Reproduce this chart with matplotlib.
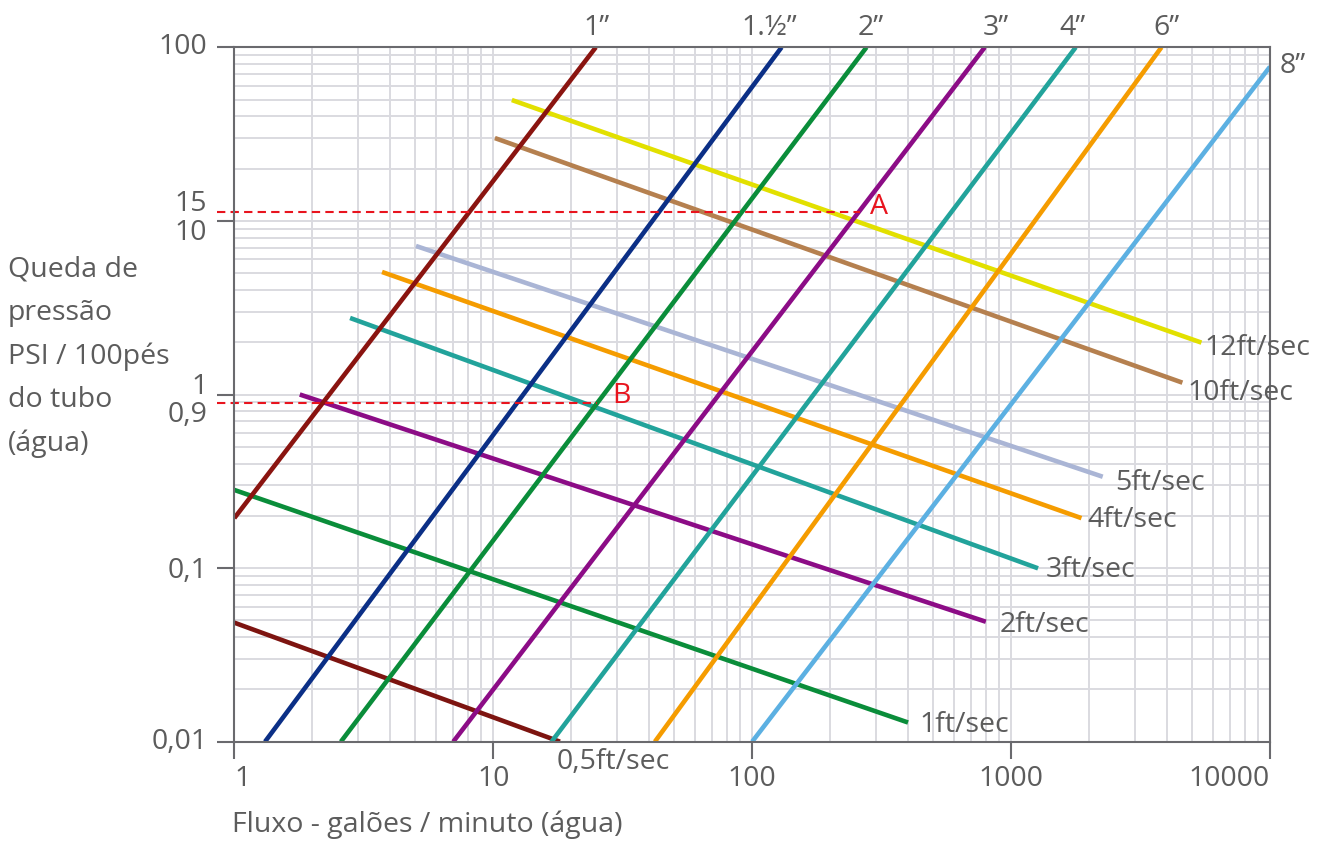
import matplotlib
matplotlib.use('Agg')
import matplotlib.pyplot as plt
from matplotlib.ticker import NullFormatter

plt.rcParams['font.family'] = ['Open Sans', 'DejaVu Sans']

# pipe size lines (flow in gpm, pressure drop in psi/100ft)
pipe_labels = ['1”', '1.½”', '2”', '3”', '4”', '6”', '8”']
pipe_flow_start = [1, 1.314, 2.58, 7.01, 16.8, 42.1, 100]
pipe_flow_end = [24.9, 129.9, 276.5, 791.5, 1777, 3808, 10000]
pipe_psi_start = [0.194, 0.01, 0.01, 0.01, 0.01, 0.01, 0.01]
pipe_psi_end = [100, 100, 100, 100, 100, 100, 77.3]
pipe_colors = ['#8a1410', '#0b2f86', '#0a8d3a', '#8c0c86', '#22a39b', '#f59c00', '#5cb0e2']

# velocity lines
vel_labels = ['0,5ft/sec', '1ft/sec', '2ft/sec', '3ft/sec', '4ft/sec', '5ft/sec', '10ft/sec', '12ft/sec']
vel_flow_start = [1, 1, 1.79, 2.80, 3.72, 5.03, 10.15, 11.8]
vel_flow_end = [18.1, 400, 799, 1271, 1870, 2259, 4589, 5435]
vel_psi_start = [0.0485, 0.282, 1.0, 2.76, 5.08, 7.17, 30.0, 49.7]
vel_psi_end = [0.01, 0.0129, 0.0491, 0.0997, 0.194, 0.336, 1.17, 1.99]
vel_colors = ['#7d1410', '#0a8d3a', '#8c0c86', '#22a39b', '#f59c00', '#aab5d5', '#b5804f', '#e2e000']

# reference points A and B
ref_names = ['A', 'B']
ref_flow = [260, 25.1]
ref_psi = [11.3, 0.89]

x_ticks = [1, 10, 100, 1000, 10000]
x_ticklabels = ['1', '10', '100', '1000', '10000']
y_ticks = [100, 11.3, 10, 1, 0.89, 0.1, 0.01]
y_ticklabels = ['100', '15', '10', '1', '0,9', '0,1', '0,01']

TXT = '#5c5c5c'
AX = '#6a6a6e'
FS = 20.5

fig = plt.figure(figsize=(13.25, 8.43), dpi=100)
W, H = 1325, 843
ax = fig.add_axes([234.3 / W, 1 - 741.7 / H, (1270 - 234.3) / W, (741.7 - 47.3) / H])
ax.set_xscale('log')
ax.set_yscale('log')
ax.set_xlim(1, 10000)
ax.set_ylim(0.01, 100)

ax.grid(True, which='both', color='#dadae0', lw=1.4)
ax.set_axisbelow(True)
for s in ax.spines.values():
    s.set_color(AX)
    s.set_linewidth(1.5)

ax.set_xticks(x_ticks, labels=x_ticklabels)
ax.set_yticks([0.01, 0.1, 1, 10, 100], labels=[])
ax.xaxis.set_minor_formatter(NullFormatter())
ax.yaxis.set_minor_formatter(NullFormatter())
ax.tick_params(which='major', length=12.5, width=1.5, color=AX, labelsize=FS,
               labelcolor=TXT, pad=4)
ax.tick_params(which='minor', length=0)
xl = ax.get_xticklabels()
xl[0].set_ha('left')
xl[-1].set_ha('right')

# y labels, some nudged so they don't collide
y_shift = {'100': 0, '15': -8, '10': 12, '1': -8, '0,9': 12, '0,1': 3, '0,01': 0}
for v, t in zip(y_ticks, y_ticklabels):
    ax.annotate(t, xy=(0, v), xycoords=ax.get_yaxis_transform(), xytext=(-27, -y_shift[t]),
                textcoords='offset pixels', ha='right', va='center', fontsize=FS, color=TXT)

for fs, fe, ps, pe, c in zip(vel_flow_start, vel_flow_end, vel_psi_start, vel_psi_end, vel_colors):
    ax.plot([fs, fe], [ps, pe], color=c, lw=3.3, solid_capstyle='butt')
for fs, fe, ps, pe, c in zip(pipe_flow_start, pipe_flow_end, pipe_psi_start, pipe_psi_end, pipe_colors):
    ax.plot([fs, fe], [ps, pe], color=c, lw=3.3, solid_capstyle='butt')

# pipe labels above the top
pipe_nudge = [1, -12, 4, 11, -3, 5]
for lab, fe, pe, dx in zip(pipe_labels[:-1], pipe_flow_end, pipe_psi_end, pipe_nudge):
    ax.annotate(lab, xy=(fe, pe), xytext=(dx, 19), textcoords='offset pixels',
                ha='center', va='center', fontsize=FS, color=TXT, annotation_clip=False)
ax.annotate(pipe_labels[-1], xy=(pipe_flow_end[-1], pipe_psi_end[-1]), xytext=(10, 1),
            textcoords='offset pixels', ha='left', va='center', fontsize=FS, color=TXT,
            annotation_clip=False)

# velocity labels at line ends
vel_off = [(-3, -20), (11, -2), (14, -3), (8, -2), (6, -2), (12, -6), (5, -10), (3, -5)]
for lab, fe, pe, (dx, dy) in zip(vel_labels, vel_flow_end, vel_psi_end, vel_off):
    ax.annotate(lab, xy=(fe, pe), xytext=(dx, dy), textcoords='offset pixels',
                ha='left', va='center', fontsize=FS, color=TXT, annotation_clip=False)

# dashed reference lines, running out over the tick area
ref_off = [(10, 5), (16, 7)]
for name, f, p, (dx, dy) in zip(ref_names, ref_flow, ref_psi, ref_off):
    px0 = ax.transData.transform((1, p))
    x_left = ax.transData.inverted().transform((px0[0] - 17, px0[1]))[0]
    ax.plot([x_left, f], [p, p], color='#e8141e', lw=1.5, dashes=(4, 2.5), clip_on=False)
    ax.annotate(name, xy=(f, p), xytext=(dx, dy), textcoords='offset pixels',
                ha='left', va='center', fontsize=FS, color='#e8141e')

fig.text(8 / W, 1 - 357 / H, 'Queda de\npressão\nPSI / 100pés\ndo tubo\n(água)',
         ha='left', va='center', fontsize=FS, color=TXT, linespacing=1.72)
fig.text(232 / W, 1 - 825 / H, 'Fluxo - galões / minuto (água)',
         ha='left', va='center', fontsize=FS, color=TXT)

fig.savefig('out.png', dpi=100)
